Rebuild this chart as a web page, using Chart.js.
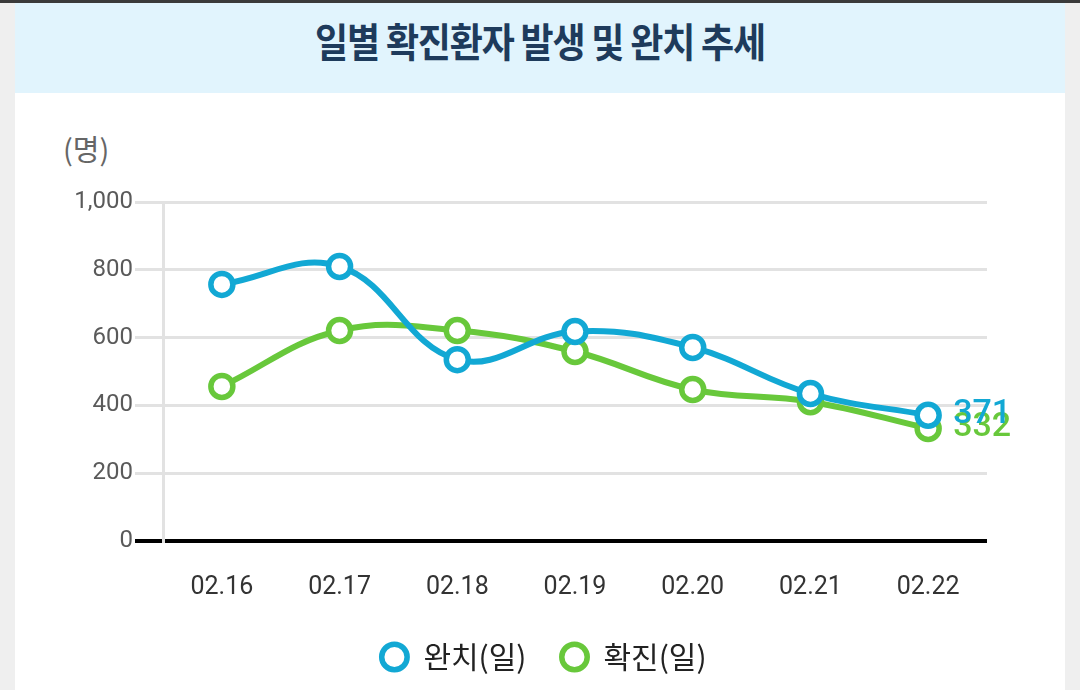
<!DOCTYPE html>
<html><head><meta charset="utf-8">
<script src="https://cdn.jsdelivr.net/npm/chart.js@4.4.0/dist/chart.umd.min.js"></script>
<style>
html,body{margin:0;padding:0;width:1080px;height:690px;overflow:hidden;background:#efefef;font-family:"Noto Sans CJK KR","Noto Sans",sans-serif;}
#topbar{position:absolute;left:0;top:0;width:1080px;height:3px;background:#3a3a3a;}
#card{position:absolute;left:15px;top:3px;width:1050px;height:687px;background:#fff;}
#band{position:absolute;left:15px;top:3px;width:1050px;height:90px;background:#e1f4fd;}
#title{position:absolute;left:0;top:13px;width:1080px;text-align:center;font-size:36px;font-weight:700;color:#1e3b5c;letter-spacing:-1.2px;transform:scaleY(1.1);}
#unit{position:absolute;left:63px;top:127px;font-size:29px;color:#666;}
#wrap{position:absolute;left:0;top:0;width:1080px;height:690px;}
</style></head>
<body>
<div id="topbar"></div><div id="card"></div><div id="band"></div>
<div id="title">일별 확진환자 발생 및 완치 추세</div>
<div id="unit">(명)</div>
<div id="wrap"><canvas id="c" width="1080" height="690"></canvas></div>
<script>
const categories = ["02.16","02.17","02.18","02.19","02.20","02.21","02.22"];
const recovered = [757, 810, 535, 618, 571, 435, 371];
const confirmed = [456, 621, 621, 559, 447, 411, 332];
const seriesNames = ["완치(일)", "확진(일)"];
const yTicks = [0, 200, 400, 600, 800, 1000];

const BLUE = "#12a8d4", GREEN = "#68c83b";

const endLabels = {
  id: "endLabels",
  afterLayout(chart) {
    if (chart.legend) { chart.legend.left += 50; chart.legend.right += 50; }
  },
  afterDatasetsDraw(chart) {
    const ctx = chart.ctx;
    ctx.save();
    ctx.font = "500 34px Roboto, 'Noto Sans', sans-serif";
    ctx.textBaseline = "middle";
    ctx.textAlign = "left";
    for (let i = chart.data.datasets.length - 1; i >= 0; i--) {
      const ds = chart.data.datasets[i];
      const meta = chart.getDatasetMeta(i);
      const pt = meta.data[meta.data.length - 1];
      ctx.fillStyle = ds.borderColor;
      ctx.fillText(String(ds.data[ds.data.length - 1]), pt.x + 25, pt.y - 1);
    }
    ctx.restore();
  }
};

const mk = (label, data, color) => ({
  label, data,
  borderColor: color, backgroundColor: "#fff",
  borderWidth: 6, tension: 0.4,
  pointRadius: 11, pointHoverRadius: 11,
  pointBorderWidth: 5.5, pointBackgroundColor: "#fff", pointBorderColor: color,
  pointStyle: "circle", clip: false
});

new Chart(document.getElementById("c"), {
  type: "line",
  data: { labels: categories, datasets: [mk(seriesNames[0], recovered, BLUE), mk(seriesNames[1], confirmed, GREEN)] },
  options: {
    responsive: false, animation: false,
    layout: { padding: { top: 202, right: 93, left: 0, bottom: 8 } },
    plugins: {
      tooltip: { enabled: false },
      legend: {
        position: "bottom",
        labels: {
          usePointStyle: true, boxHeight: 18, boxWidth: 28,
          padding: 34, color: "#222",
          font: { size: 30, family: "'Noto Sans CJK KR', sans-serif" }
        }
      }
    },
    scales: {
      x: {
        offset: true,
        grid: { display: false, drawTicks: false },
        border: { display: false },
        ticks: { color: "#333", padding: 32, font: { size: 25, family: "Roboto, sans-serif" } },
        afterFit(s) { s.height = 67; }
      },
      y: {
        min: 0, max: 1000,
        afterBuildTicks(s) { s.ticks = yTicks.map(v => ({ value: v })); },
        grid: {
          color: c => c.tick && c.tick.value === 0 ? "#000" : "#e2e2e2",
          lineWidth: c => c.tick && c.tick.value === 0 ? 4 : 3,
          tickLength: 28, drawTicks: true
        },
        border: { display: true, color: "#e2e2e2", width: 3 },
        ticks: {
          color: "#5a5a5a", padding: 2,
          font: { size: 24, family: "Roboto, sans-serif" },
          callback: v => v.toLocaleString("en-US")
        },
        afterFit(s) { s.width = 163; }
      }
    }
  },
  plugins: [endLabels]
});
</script>
</body></html>
